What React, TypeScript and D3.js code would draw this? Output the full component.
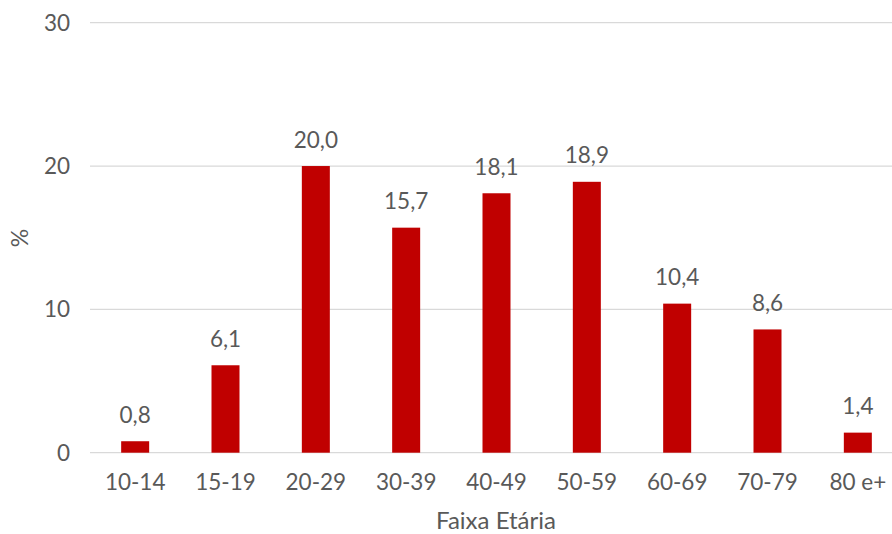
import React from "react";
import * as d3 from "d3";

const categories = ["10-14", "15-19", "20-29", "30-39", "40-49", "50-59", "60-69", "70-79", "80 e+"];
const values = [0.8, 6.1, 20.0, 15.7, 18.1, 18.9, 10.4, 8.6, 1.4];
const yTicks = [0, 10, 20, 30];

const W = 892;
const H = 534;
const FONT = "Lato, 'Open Sans', sans-serif";
const TEXT = "#595959";

export default function App() {
  const x = d3.scaleBand<string>().domain(categories).range([90, 903]).paddingInner(0.69).paddingOuter(0.345);
  const y = d3.scaleLinear().domain([0, 30]).range([452.7, 22.7]);
  const fmt = (v: number) => d3.format(".1f")(v).replace(".", ",");

  return (
    <svg
      width={W}
      height={H}
      style={{ position: "absolute", left: 0, top: 0, background: "#fff" }}
      fontFamily={FONT}
    >
      {yTicks.map((t) => (
        <g key={t}>
          <line x1={90} x2={903} y1={y(t)} y2={y(t)} stroke="#d9d9d9" strokeWidth={1.3} />
          <text x={70} y={y(t)} dy="0.36em" textAnchor="end" fontSize={22.5} fill={TEXT}>
            {t}
          </text>
        </g>
      ))}
      {categories.map((c, i) => (
        <g key={c}>
          <rect
            x={x(c)}
            y={y(values[i])}
            width={x.bandwidth()}
            height={y(0) - y(values[i])}
            fill="#C00000"
          />
          <text
            x={(x(c) as number) + x.bandwidth() / 2}
            y={y(values[i]) - 18.5}
            textAnchor="middle"
            fontSize={22.5}
            fill={TEXT}
          >
            {fmt(values[i])}
          </text>
          <text
            x={(x(c) as number) + x.bandwidth() / 2}
            y={490}
            textAnchor="middle"
            fontSize={22.5}
            fill={TEXT}
          >
            {c}
          </text>
        </g>
      ))}
      <text x={496} y={529} textAnchor="middle" fontSize={24} fill={TEXT}>
        Faixa Etária
      </text>
      <text
        transform="translate(28,238) rotate(-90)"
        textAnchor="middle"
        fontSize={23}
        fill={TEXT}
      >
        %
      </text>
    </svg>
  );
}
